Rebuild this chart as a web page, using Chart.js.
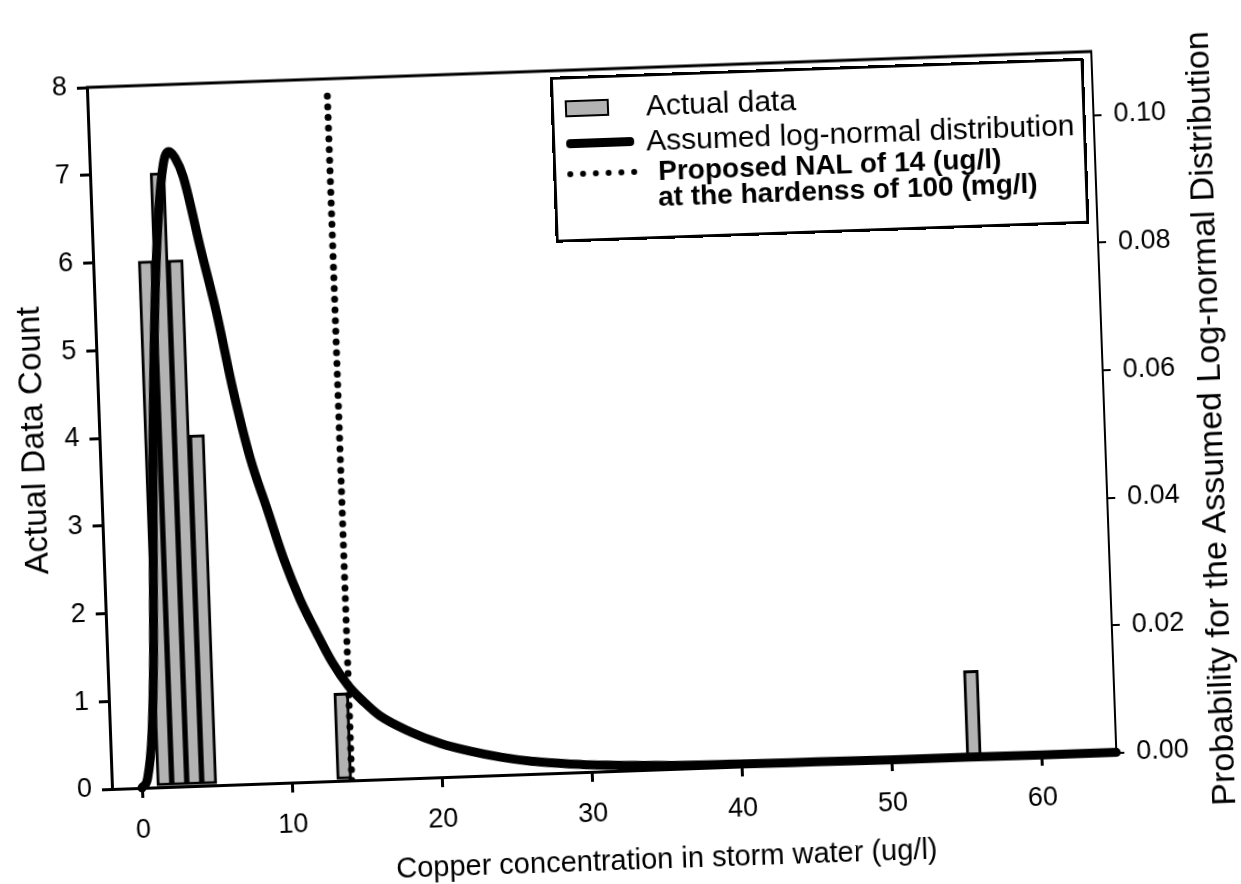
<!DOCTYPE html>
<html>
<head>
<meta charset="utf-8">
<script src="https://cdn.jsdelivr.net/npm/chart.js@4.4.1/dist/chart.umd.min.js"></script>
<style>
  html, body { margin: 0; padding: 0; background: #fff; overflow: hidden; }
  #frame {
    position: absolute; left: 0; top: 0; width: 1241px; height: 940px;
    transform: rotate(-2.05deg); transform-origin: 112px 789px;
    font-family: "Liberation Sans", Arial, sans-serif; color: #000;
  }
  #chart { position: absolute; left: 0; top: 0; }
  #legend {
    position: absolute; left: 575px; top: 93px; width: 534px; height: 166px;
    box-sizing: border-box; border: 3px solid #000; background: #fff;
  }
  #legend .row { position: absolute; left: 0; right: 0; height: 34px; }
  #legend .key { position: absolute; left: 11px; }
  #legend .txt { position: absolute; white-space: nowrap; line-height: 34px; top: 0; }
  #xTitle {
    position: absolute; left: 214px; top: 860px; width: 900px; height: 36px;
    line-height: 36px; text-align: center; font-size: 29px; white-space: nowrap;
  }
  #rightTitle {
    position: absolute; left: 772px; top: 438px; width: 900px; height: 40px;
    line-height: 40px; text-align: center; font-size: 34px; white-space: nowrap;
    transform: rotate(-90deg); transform-origin: 450px 20px;
  }
</style>
</head>
<body>
<div id="frame">
  <canvas id="chart" width="1241" height="940"></canvas>
  <div id="legend">
    <div class="row" style="top:12px">
      <div class="key" style="top:9px;width:44px;height:17px;box-sizing:border-box;border:2px solid #000;background:#b3b3b3"></div>
      <div class="txt" style="left:92px;font-size:30px">Actual data</div>
    </div>
    <div class="row" style="top:47px">
      <div class="key" style="top:13px;width:68px;height:9px;background:#000;border-radius:4px"></div>
      <div class="txt" style="left:91px;font-size:30px">Assumed log-normal distribution</div>
    </div>
    <div class="row" style="top:78px">
      <div class="key" style="top:14px;width:70px;height:0;border-top:6px dotted #000"></div>
      <div class="txt" style="left:102px;font-size:28px;font-weight:bold">Proposed NAL of 14 (ug/l)</div>
    </div>
    <div class="row" style="top:104px">
      <div class="txt" style="left:101px;font-size:28px;font-weight:bold">at the hardenss of 100 (mg/l)</div>
    </div>
  </div>
  <div id="xTitle">Copper concentration in storm water (ug/l)</div>
  <div id="rightTitle">Probability for the Assumed Log-normal Distribution</div>
</div>
<script>
// histogram of measured copper concentrations (bin centres, counts)
const binCenters = [1.5, 2.5, 3.5, 4.5, 13.5, 55.5];
const binCounts = [6, 7, 6, 4, 1, 1];

// fitted log-normal probability curve (right axis)
const curveX = [0, 0.4, 0.8, 1.1, 1.5, 2.0, 2.4, 2.9, 3.3, 3.7, 4.2, 5.2, 6.1, 7.0, 8.0, 9.0, 10.0,
  11.0, 12.0, 13.0, 14.0, 15.0, 16.0, 18.0, 20.0, 22.0, 24.0, 26.0, 28.0, 30.0, 35.0, 40.0, 45.0,
  50.0, 55.0, 60.0, 65.0];
const curveP = [0, 0.0015, 0.0086, 0.0215, 0.0505, 0.075, 0.088, 0.0975, 0.0995, 0.0985, 0.0955,
  0.084, 0.074, 0.062, 0.051, 0.043, 0.035, 0.0285, 0.0233, 0.0185, 0.0148, 0.0122, 0.0100,
  0.0073, 0.0053, 0.0039, 0.0028, 0.0020, 0.0015, 0.0011, 0.0006, 0.0004, 0.0003, 0.0002,
  0.0002, 0.0001, 0.0001];

// proposed NAL marker
const nalX = [14, 14];
const nalY = [0, 7.9];

const xTicks = [0, 10, 20, 30, 40, 50, 60];
const countTicks = [0, 1, 2, 3, 4, 5, 6, 7, 8];
const probTicks = [0, 0.02, 0.04, 0.06, 0.08, 0.10];

const FONT = "'Liberation Sans', Arial, sans-serif";

const frameBox = {
  id: "frameBox",
  afterDatasetsDraw(chart) {
    const a = chart.chartArea;
    const c = chart.ctx;
    c.save();
    c.strokeStyle = "#000";
    c.lineWidth = 3;
    c.beginPath();
    c.moveTo(a.left - 1, a.top);
    c.lineTo(a.right + 1, a.top);
    c.stroke();
    c.restore();
  }
};

const ctx = document.getElementById("chart").getContext("2d");
new Chart(ctx, {
  type: "bar",
  data: {
    datasets: [
      {
        type: "line",
        label: "Assumed log-normal distribution",
        data: curveX.map((x, i) => ({ x: x, y: curveP[i] })),
        yAxisID: "y1",
        borderColor: "#000",
        borderWidth: 9,
        pointRadius: 0,
        cubicInterpolationMode: "monotone",
        borderJoinStyle: "round",
        borderCapStyle: "round",
        clip: false,
        order: 0
      },
      {
        type: "line",
        label: "Proposed NAL of 14 (ug/l)",
        data: nalX.map((x, i) => ({ x: x, y: nalY[i] })),
        yAxisID: "y",
        borderColor: "#000",
        borderWidth: 7,
        borderDash: [0, 10.7],
        borderCapStyle: "round",
        pointRadius: 0,
        order: 1
      },
      {
        label: "Actual data",
        data: binCenters.map((x, i) => ({ x: x, y: binCounts[i] })),
        yAxisID: "y",
        backgroundColor: "#b3b3b3",
        borderColor: "#000",
        borderWidth: 3,
        borderSkipped: false,
        categoryPercentage: 1,
        barPercentage: 1,
        order: 2
      }
    ]
  },
  options: {
    responsive: false,
    animation: false,
    layout: { padding: { top: 87, left: 0, right: 0, bottom: 0 } },
    plugins: { legend: { display: false }, tooltip: { enabled: false } },
    scales: {
      x: {
        type: "linear",
        min: -2,
        max: 65,
        offset: false,
        afterBuildTicks: (s) => { s.ticks = xTicks.map((v) => ({ value: v })); },
        afterFit: (s) => { s.height = 940 - 789; },
        grid: { display: true, offset: false, drawOnChartArea: false, tickLength: 10, color: "#000", lineWidth: 3 },
        border: { color: "#000", width: 3 },
        ticks: { color: "#000", font: { family: FONT, size: 27 }, padding: 16, maxRotation: 0 }
      },
      y: {
        position: "left",
        min: 0,
        max: 8,
        afterBuildTicks: (s) => { s.ticks = countTicks.map((v) => ({ value: v })); },
        afterFit: (s) => { s.width = 112; },
        grid: { display: true, drawOnChartArea: false, tickLength: 10, color: "#000", lineWidth: 3 },
        border: { color: "#000", width: 3 },
        ticks: { color: "#000", font: { family: FONT, size: 27 }, padding: 10 },
        title: {
          display: true, text: "Actual Data Count", color: "#000",
          font: { family: FONT, size: 33 }, padding: { top: 27, bottom: 0 }
        }
      },
      y1: {
        position: "right",
        min: 0,
        max: 0.11,
        afterBuildTicks: (s) => { s.ticks = probTicks.map((v) => ({ value: v })); },
        afterFit: (s) => { s.width = 1241 - 1117; },
        grid: { display: true, drawOnChartArea: false, tickLength: 8, color: "#000", lineWidth: 2 },
        border: { color: "#000", width: 2 },
        ticks: {
          color: "#000", font: { family: FONT, size: 27 }, padding: 12,
          callback: (v) => Number(v).toFixed(2)
        }
      }
    }
  },
  plugins: [frameBox]
});
</script>
</body>
</html>
